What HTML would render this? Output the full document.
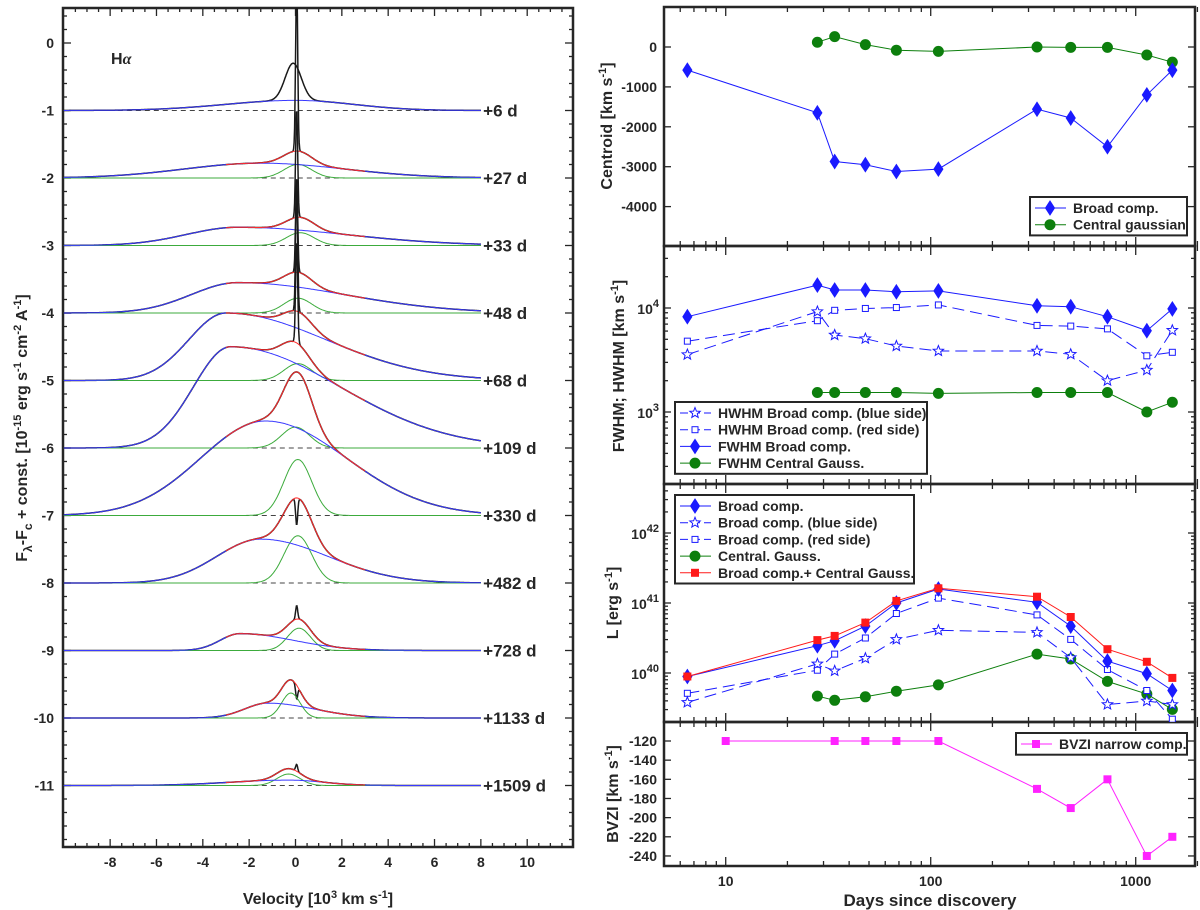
<!DOCTYPE html>
<html><head><meta charset="utf-8"><title>H-alpha evolution</title>
<style>
html,body{margin:0;padding:0;background:#fff;}
svg{display:block;font-family:"Liberation Sans",Arial,sans-serif;}
text{font-weight:bold;fill:#262626;}
</style></head>
<body>
<svg id="fig" width="1200" height="910" viewBox="0 0 1200 910" xmlns="http://www.w3.org/2000/svg">
<defs>
<clipPath id="clipL"><rect x="63" y="8" width="510" height="839"/></clipPath>
<clipPath id="clipR1"><rect x="664" y="7" width="531" height="239"/></clipPath>
<clipPath id="clipR2"><rect x="664" y="246" width="531" height="238"/></clipPath>
<clipPath id="clipR3"><rect x="664" y="484" width="531" height="238"/></clipPath>
<clipPath id="clipR4"><rect x="664" y="722" width="531" height="144"/></clipPath>
</defs>
<g id="gL"></g>
<g id="gR"></g>
</svg>
<script>
// ---------- Right panel data ----------
const days=[6.5,28,34,48,68,109,330,482,728,1133,1509];
const daysGauss=[28,34,48,68,109,330,482,728,1133,1509];
const centroidBroad=[-580,-1650,-2870,-2950,-3120,-3060,-1560,-1780,-2500,-1200,-580];
const centroidGauss=[120,260,60,-80,-110,0,-10,-10,-200,-380];
const fwhmBroad=[8250,16600,14900,14900,14300,14600,10500,10300,8250,6050,9800];
const hwhmRed=[4800,7550,9500,9900,10100,10700,6800,6700,6300,3470,3750];
const hwhmBlue=[3560,9230,5500,5070,4310,3860,3860,3590,2000,2530,6100];
const fwhmGauss=[1540,1540,1540,1540,1510,1540,1540,1540,1000,1240];
const logLBroad=[39.95,40.39,40.46,40.67,41.0,41.2,41.01,40.67,40.17,39.99,39.75];
const logLSum=[39.95,40.47,40.53,40.72,41.03,41.21,41.09,40.80,40.34,40.16,39.93];
const logLRed=[39.71,40.04,40.27,40.5,40.85,41.07,40.83,40.48,40.05,39.75,39.34];
const logLBlue=[39.58,40.13,40.03,40.21,40.48,40.61,40.58,40.22,39.55,39.60,39.55];
const logLGauss=[39.67,39.61,39.66,39.74,39.83,40.27,40.20,39.88,39.70,39.48];
const bvziDays=[10,34,48,68,109,330,482,728,1133,1509];
const bvzi=[-120,-120,-120,-120,-120,-170,-190,-160,-240,-220];
const xTickDays=[10,100,1000];
const centroidTicks=[0,-1000,-2000,-3000,-4000];
const bvziTicks=[-120,-140,-160,-180,-200,-220,-240];

// ---------- Left panel (spectra) data ----------
const epochLabels=['+6 d','+27 d','+33 d','+48 d','+68 d','+109 d','+330 d','+482 d','+728 d','+1133 d','+1509 d'];
const offsets=[-1,-2,-3,-4,-5,-6,-7,-8,-9,-10,-11];
const broadH=[0.15,0.22,0.27,0.45,1.0,1.5,1.4,0.65,0.25,0.22,0.08];
const broadC=[0,-1.5,-2.5,-2.5,-3.0,-2.8,-1.3,-1.5,-2.4,-1.2,-0.3];
const broadSL=[3,3.3,2.2,2.0,1.6,1.6,2.8,1.9,0.85,1.0,2.5];
const broadSR=[2.5,3.6,4.6,4.6,4.3,4.7,3.5,2.9,2.3,2.0,1.5];
const gaussH=[0,0.2,0.19,0.22,0.25,0.31,0.83,0.7,0.33,0.37,0.17];
const gaussC=[0,0.1,0.2,0.1,0.1,0.0,0.1,0.1,0.15,-0.2,-0.3];
const gaussS=[0.5,0.6,0.6,0.6,0.6,0.6,0.6,0.6,0.5,0.4,0.5];
const narrowH=[0,2.5,1.6,1.4,1.8,1.5,0,-0.4,0.2,-0.2,0.1];
const bumpH=[0.55,0,0,0,0,0,0,0,0,0,0];
const velTicks=[-8,-6,-4,-2,0,2,4,6,8,10];
const fluxTicks=[0,-1,-2,-3,-4,-5,-6,-7,-8,-9,-10,-11];

const NS='http://www.w3.org/2000/svg';
const svg=document.getElementById('fig');
const gL=document.getElementById('gL');
const gR=document.getElementById('gR');
function mk(tag,attrs,parent){const e=document.createElementNS(NS,tag);for(const k in attrs)e.setAttribute(k,attrs[k]);(parent||svg).appendChild(e);return e;}

// ---------- scales ----------
const XL=v=>295.5+v*23.17;
const YL=f=>43-f*67.5;
const XD=d=>664+(Math.log10(d)-Math.log10(5))*205;
const Y1=v=>47-v/1000*39.9;
const Y2=v=>308-(Math.log10(v)-4)*104;
const Y3=l=>603-(l-41)*70;
const Y4=v=>741+(-120-v)*0.958;

// ================= LEFT PANEL =================
const frameL=mk('rect',{x:63,y:8,width:510,height:839,fill:'none',stroke:'#262626','stroke-width':2.5},gL);


for(let v=-9.5;v<=11.6;v+=0.5){
  const major=Math.abs(v%2)<1e-6;
  const len=major?8:4;
  const x=XL(v);
  mk('line',{x1:x,y1:847,x2:x,y2:847-len,stroke:'#262626','stroke-width':1.3},gL);
  mk('line',{x1:x,y1:8,x2:x,y2:8+len,stroke:'#262626','stroke-width':1.3},gL);
}
for(let f=0.4;f>=-11.8;f-=0.2){
  const major=Math.abs(f-Math.round(f))<1e-6;
  const len=major?8:4;
  const y=YL(f);
  mk('line',{x1:63,y1:y,x2:63+len,y2:y,stroke:'#262626','stroke-width':1.3},gL);
  mk('line',{x1:573,y1:y,x2:573-len,y2:y,stroke:'#262626','stroke-width':1.3},gL);
}
velTicks.forEach(v=>{
  const t=mk('text',{x:XL(v),y:867,'text-anchor':'middle','font-size':14},gL);
  t.textContent=String(v);
  
  
});
fluxTicks.forEach(f=>{
  const t=mk('text',{x:54,y:YL(f)+5,'text-anchor':'end','font-size':14},gL);
  t.textContent=String(f);
  
  
});
const xtL=mk('text',{x:318,y:904,'text-anchor':'middle','font-size':16},gL);
xtL.innerHTML='Velocity [10<tspan dy="-6" font-size="11">3</tspan><tspan dy="6"> km s</tspan><tspan dy="-6" font-size="11">-1</tspan><tspan dy="6">]</tspan>';


const ytL=mk('text',{x:0,y:0,'text-anchor':'middle','font-size':16,transform:'translate(27,428) rotate(-90)'},gL);
ytL.innerHTML='F<tspan dy="5" font-size="12">λ</tspan><tspan dy="-5">-F</tspan><tspan dy="5" font-size="12">c</tspan><tspan dy="-5"> + const. [10</tspan><tspan dy="-6" font-size="11">-15</tspan><tspan dy="6"> erg s</tspan><tspan dy="-6" font-size="11">-1</tspan><tspan dy="6"> cm</tspan><tspan dy="-6" font-size="11">-2</tspan><tspan dy="6"> A</tspan><tspan dy="-6" font-size="11">-1</tspan><tspan dy="6">]</tspan>';


const ha=mk('text',{x:111,y:64,'font-size':16},gL);
ha.innerHTML='H<tspan font-style="italic" font-family="Liberation Serif">α</tspan>';



const clipG=mk('g',{'clip-path':'url(#clipL)'},gL);
function g(x,c,s){return Math.exp(-(x-c)*(x-c)/(2*s*s));}
function broad(i,x){const s=x<broadC[i]?broadSL[i]:broadSR[i];return broadH[i]*g(x,broadC[i],s);}
function pathFrom(fn,x0,x1,step){let d='';for(let x=x0;x<=x1+1e-9;x+=step){d+=(d?'L':'M')+XL(x).toFixed(1)+','+YL(fn(x)).toFixed(1);}return d;}
offsets.forEach((off,i)=>{
  const grp=mk('g',{},clipG);
  
  
  const dash=mk('line',{x1:XL(-10),y1:YL(off),x2:XL(8),y2:YL(off),stroke:'#444','stroke-width':1,'stroke-dasharray':'5,4'},grp);
  
  
  const obs=x=>off+broad(i,x)+gaussH[i]*g(x,gaussC[i],gaussS[i])+bumpH[i]*g(x,-0.1,0.35)+narrowH[i]*g(x,0.05,0.045);
  const blk=mk('path',{d:pathFrom(obs,-10,8,0.02),fill:'none',stroke:'#1a1a1a','stroke-width':1.5},grp);
  
  
  if(gaussH[i]>0){
    const gr=mk('path',{d:pathFrom(x=>off+gaussH[i]*g(x,gaussC[i],gaussS[i]),-10,8,0.05),fill:'none',stroke:'#3cab3c','stroke-width':1},grp);
    
    
  }
  const bl=mk('path',{d:pathFrom(x=>off+broad(i,x),-10,8,0.05),fill:'none',stroke:'#3a3aff','stroke-width':1},grp);
  
  
  if(gaussH[i]>0){
    const rd=mk('path',{d:pathFrom(x=>off+broad(i,x)+gaussH[i]*g(x,gaussC[i],gaussS[i]),-3,3,0.05),fill:'none',stroke:'#ff2a2a','stroke-width':1},grp);
    
    
  }
  const lab=mk('text',{x:XL(8.1),y:YL(off)+6,'font-size':17},gL);
  lab.textContent=epochLabels[i];
  
  
});

// ================= RIGHT PANELS =================
const panels=[{t:7,b:246,clip:'clipR1',name:'centroid-panel'},{t:246,b:484,clip:'clipR2',name:'width-panel'},{t:484,b:722,clip:'clipR3',name:'luminosity-panel'},{t:722,b:866,clip:'clipR4',name:'bvzi-panel'}];
panels.forEach(p=>{
  const r=mk('rect',{x:664,y:p.t,width:531,height:p.b-p.t,fill:'none',stroke:'#262626','stroke-width':2.5},gR);
  
  
  for(let dec=1;dec<=1000;dec*=10){for(let m=1;m<=9;m++){const d=dec*m;if(d<5||d>2000)continue;const x=XD(d);const len=m===1?9:5;
    mk('line',{x1:x,y1:p.b,x2:x,y2:p.b-len,stroke:'#262626','stroke-width':1.3},gR);
    mk('line',{x1:x,y1:p.t,x2:x,y2:p.t+len,stroke:'#262626','stroke-width':1.3},gR);}}
});
function ytick(y,len){mk('line',{x1:664,y1:y,x2:664+len,y2:y,stroke:'#262626','stroke-width':1.3},gR);mk('line',{x1:1195,y1:y,x2:1195-len,y2:y,stroke:'#262626','stroke-width':1.3},gR);}
function ylabel(y,txt,name){const t=mk('text',{x:657,y:y+5,'text-anchor':'end','font-size':14},gR);t.textContent=txt;return t;}
function expLabel(y,e,name){const t=mk('text',{x:659,y:y+6,'text-anchor':'end','font-size':14},gR);t.innerHTML='10<tspan dy="-7" font-size="11">'+e+'</tspan>';}
centroidTicks.forEach(v=>{ytick(Y1(v),7);ylabel(Y1(v),String(v),'centroid-tick-label');});
for(let e=2;e<=4;e++)for(let m=1;m<=9;m++){const v=m*Math.pow(10,e);const y=Y2(v);if(y<247||y>483)continue;ytick(y,m===1?7:4);}
[4,3].forEach(e=>expLabel(Y2(Math.pow(10,e)),e,'width-tick-label'));
for(let e=39;e<=42;e++)for(let m=1;m<=9;m++){const l=e+Math.log10(m);const y=Y3(l);if(y<485||y>721)continue;ytick(y,m===1?7:4);}
[42,41,40].forEach(e=>expLabel(Y3(e),e,'luminosity-tick-label'));
bvziTicks.forEach(v=>{ytick(Y4(v),7);ylabel(Y4(v),String(v),'bvzi-tick-label');});
xTickDays.forEach(d=>{const t=mk('text',{x:XD(d),y:886,'text-anchor':'middle','font-size':14},gR);t.textContent=String(d);});
const xt=mk('text',{x:930,y:906,'text-anchor':'middle','font-size':17},gR);
xt.textContent='Days since discovery';


function rtitle(x,y,html,name){const t=mk('text',{x:0,y:0,'text-anchor':'middle','font-size':16,transform:'translate('+x+','+y+') rotate(-90)'},gR);t.innerHTML=html;}
rtitle(612,126,'Centroid [km s<tspan dy="-6" font-size="11">-1</tspan><tspan dy="6">]</tspan>','centroid-axis-title');
rtitle(624,366,'FWHM; HWHM [km s<tspan dy="-6" font-size="11">-1</tspan><tspan dy="6">]</tspan>','width-axis-title');
rtitle(618,603,'L [erg s<tspan dy="-6" font-size="11">-1</tspan><tspan dy="6">]</tspan>','luminosity-axis-title');
rtitle(618,794,'BVZI [km s<tspan dy="-6" font-size="11">-1</tspan><tspan dy="6">]</tspan>','bvzi-axis-title');

function marker(type,x,y,col,parent){
  if(type==='diamond')return mk('polygon',{points:`${x},${y-7} ${x+4.5},${y} ${x},${y+7} ${x-4.5},${y}`,fill:col,stroke:col},parent);
  if(type==='circle')return mk('circle',{cx:x,cy:y,r:5,fill:col,stroke:col},parent);
  if(type==='sqfill')return mk('rect',{x:x-3.5,y:y-3.5,width:7,height:7,fill:col,stroke:col},parent);
  if(type==='sqopen')return mk('rect',{x:x-3,y:y-3,width:6,height:6,fill:'#fff',stroke:col,'stroke-width':1},parent);
  if(type==='star'){let pts='';for(let k=0;k<10;k++){const r=k%2?2.4:5.5;const a=-Math.PI/2+k*Math.PI/5;pts+=(x+r*Math.cos(a)).toFixed(1)+','+(y+r*Math.sin(a)).toFixed(1)+' ';}return mk('polygon',{points:pts,fill:'#fff',stroke:col,'stroke-width':1},parent);}
}
function series(xs,ys,X,Y,col,mt,dash,clip,name){
  const grp=mk('g',{'clip-path':'url(#'+clip+')'},gR);
  
  
  let d='';xs.forEach((v,i)=>{d+=(i?'L':'M')+X(v).toFixed(1)+','+Y(ys[i]).toFixed(1);});
  const a={d:d,fill:'none',stroke:col,'stroke-width':1};if(dash)a['stroke-dasharray']=dash;
  mk('path',a,grp);
  xs.forEach((v,i)=>{const m=marker(mt,X(v),Y(ys[i]),col,grp);
    
    });
}
const BLUE='#1a1aff',GREEN='#0d7f0d',RED='#ff1a1a',MAG='#ff22ff';
series(daysGauss,centroidGauss,XD,Y1,GREEN,'circle',null,'clipR1','centroid-gauss-series');
series(days,centroidBroad,XD,Y1,BLUE,'diamond',null,'clipR1','centroid-broad-series');
series(daysGauss,fwhmGauss,XD,Y2,GREEN,'circle',null,'clipR2','fwhm-gauss-series');
series(days,hwhmRed,XD,Y2,BLUE,'sqopen','12,6','clipR2','hwhm-red-series');
series(days,hwhmBlue,XD,Y2,BLUE,'star','12,6','clipR2','hwhm-blue-series');
series(days,fwhmBroad,XD,Y2,BLUE,'diamond',null,'clipR2','fwhm-broad-series');
series(daysGauss,logLGauss,XD,Y3,GREEN,'circle',null,'clipR3','lum-gauss-series');
series(days,logLRed,XD,Y3,BLUE,'sqopen','12,6','clipR3','lum-red-series');
series(days,logLBlue,XD,Y3,BLUE,'star','12,6','clipR3','lum-blue-series');
series(days,logLBroad,XD,Y3,BLUE,'diamond',null,'clipR3','lum-broad-series');
series(days,logLSum,XD,Y3,RED,'sqfill',null,'clipR3','lum-sum-series');
series(bvziDays,bvzi,XD,Y4,MAG,'sqfill',null,'clipR4','bvzi-series');

function legend(x,y,w,entries,name){
  const grp=mk('g',{},gR);
  
  
  const h=entries.length*16.7+5;
  mk('rect',{x:x,y:y,width:w,height:h,fill:'#fff',stroke:'#262626','stroke-width':2},grp);
  entries.forEach((e,i)=>{
    const cy=y+11+i*16.7;
    const la={x1:x+5,y1:cy,x2:x+36,y2:cy,stroke:e.c,'stroke-width':1};if(e.dash)la['stroke-dasharray']='8,4';
    mk('line',la,grp);
    marker(e.m,x+20,cy,e.c,grp);
    const t=mk('text',{x:x+43,y:cy+5,'font-size':14},grp);t.textContent=e.t;
    
    
  });
}
legend(1030,197,157,[{t:'Broad comp.',c:BLUE,m:'diamond'},{t:'Central gaussian',c:GREEN,m:'circle'}],'centroid-legend');
legend(675,402,252,[{t:'HWHM Broad comp. (blue side)',c:BLUE,m:'star',dash:1},{t:'HWHM Broad comp. (red side)',c:BLUE,m:'sqopen',dash:1},{t:'FWHM Broad comp.',c:BLUE,m:'diamond'},{t:'FWHM Central Gauss.',c:GREEN,m:'circle'}],'width-legend');
legend(675,495,239,[{t:'Broad comp.',c:BLUE,m:'diamond'},{t:'Broad comp. (blue side)',c:BLUE,m:'star',dash:1},{t:'Broad comp. (red side)',c:BLUE,m:'sqopen',dash:1},{t:'Central. Gauss.',c:GREEN,m:'circle'},{t:'Broad comp.+ Central Gauss.',c:RED,m:'sqfill'}],'luminosity-legend');
legend(1016,733,171,[{t:'BVZI narrow comp.',c:MAG,m:'sqfill'}],'bvzi-legend');
</script>
</body></html>
